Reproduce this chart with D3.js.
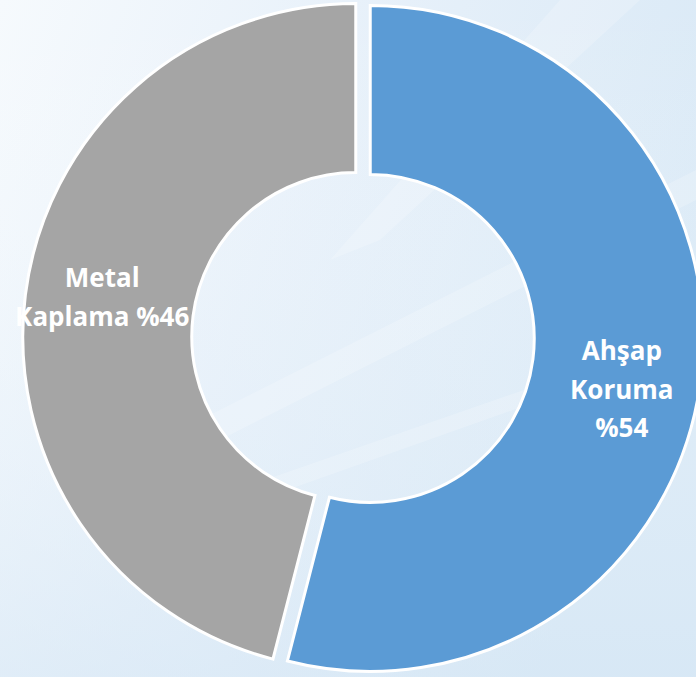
<!DOCTYPE html>
<html>
<head>
<meta charset="utf-8">
<script src="https://cdn.jsdelivr.net/npm/d3@7"></script>
<style>
  html, body { margin: 0; padding: 0; overflow: hidden; }
  body { width: 696px; height: 677px; }
  svg { display: block; }
</style>
</head>
<body>
<svg id="chart" width="696" height="677"></svg>
<script>
// ---- data ----
const categories = ["Ahşap Koruma", "Metal Kaplama"];
const values = [54, 46];
const labelLines = [["Ahşap", "Koruma", "%54"], ["Metal", "Kaplama %46"]];
const colors = ["#5B9BD5", "#A5A5A5"];

// ---- layout ----
const W = 696, H = 677;
const cx = 363, cy = 337.5;
const outerR = 333, innerR = 164;
const explode = 7.3;

const svg = d3.select("#chart");
const defs = svg.append("defs");

// background gradient
const bg = defs.append("linearGradient").attr("id", "bg")
  .attr("x1", "0").attr("y1", "0").attr("x2", "1").attr("y2", "0.35");
bg.append("stop").attr("offset", "0").attr("stop-color", "#f6fafd");
bg.append("stop").attr("offset", "0.45").attr("stop-color", "#e8f1fa");
bg.append("stop").attr("offset", "1").attr("stop-color", "#d9e9f6");
svg.append("rect").attr("width", W).attr("height", H).attr("fill", "url(#bg)");

const bg2 = defs.append("linearGradient").attr("id", "bg2")
  .attr("x1", "0").attr("y1", "0").attr("x2", "0").attr("y2", "1");
bg2.append("stop").attr("offset", "0").attr("stop-color", "#ffffff").attr("stop-opacity", 0.0);
bg2.append("stop").attr("offset", "1").attr("stop-color", "#d6e7f5").attr("stop-opacity", 0.55);
svg.append("rect").attr("width", W).attr("height", H).attr("fill", "url(#bg2)");

// soft diagonal streaks
const streaks = [
  [[560, 0], [640, 0], [380, 240], [330, 260]],
  [[200, 420], [696, 170], [696, 200], [220, 440]],
  [[150, 520], [696, 330], [696, 345], [160, 535]]
];
svg.append("g").selectAll("path").data(streaks).join("path")
  .attr("d", d => "M" + d.join("L") + "Z")
  .attr("fill", "#ffffff").attr("opacity", 0.2);

// ---- donut ----
const pie = d3.pie().sort(null).value(d => d)(values);
const arc = d3.arc().innerRadius(innerR).outerRadius(outerR);

const g = svg.append("g").attr("transform", `translate(${cx},${cy})`);

function offset(d) {
  const mid = (d.startAngle + d.endAngle) / 2;
  return [Math.sin(mid) * explode, -Math.cos(mid) * explode];
}

const slices = g.selectAll("g.slice").data(pie).join("g")
  .attr("class", "slice")
  .attr("transform", d => { const o = offset(d); return `translate(${o[0]},${o[1]})`; });

slices.append("path")
  .attr("d", arc)
  .attr("fill", (d, i) => colors[i])
  .attr("stroke", "#ffffff")
  .attr("stroke-width", 3)
  .attr("stroke-linejoin", "miter");

// ---- labels ----
const labelArc = d3.arc().innerRadius((innerR + outerR) / 2).outerRadius((innerR + outerR) / 2);
const nudges = [[5, 20], [-7, -8]];
const lineH = 38.5;

slices.append("text")
  .attr("text-anchor", "middle")
  .attr("fill", "#ffffff")
  .attr("font-family", "'Open Sans', Lato, sans-serif")
  .attr("font-weight", "bold")
  .attr("font-size", 26)
  .each(function(d, i) {
    const c = labelArc.centroid(d);
    const lines = labelLines[i];
    const x = c[0] + nudges[i][0];
    const y0 = c[1] + nudges[i][1] - (lines.length - 1) * lineH / 2 + 9;
    d3.select(this).selectAll("tspan").data(lines).join("tspan")
      .attr("x", x)
      .attr("y", (t, k) => y0 + k * lineH)
      .text(t => t);
  });
</script>
</body>
</html>
